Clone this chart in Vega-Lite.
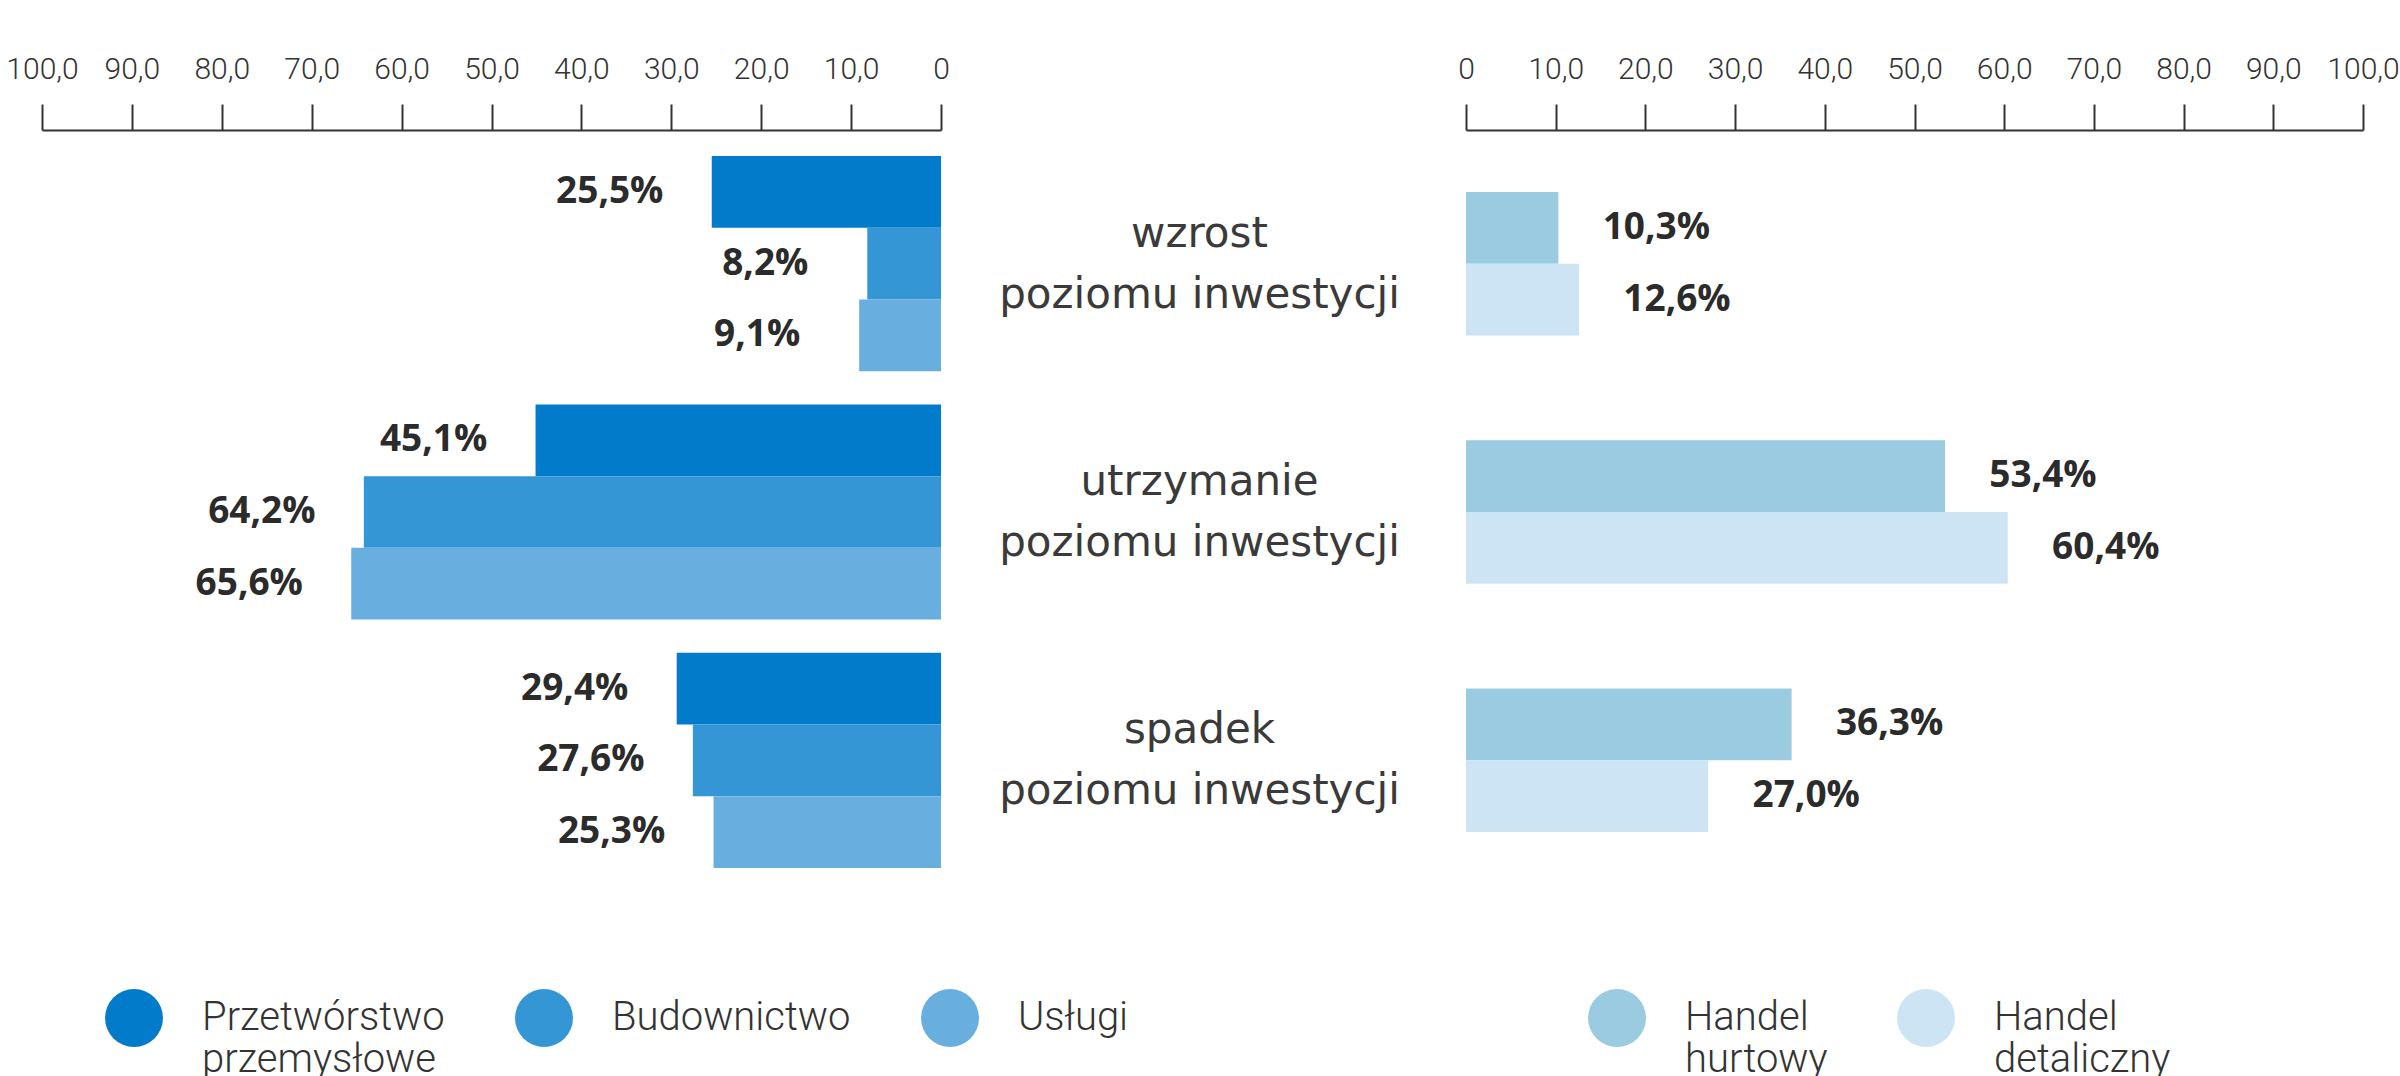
{
  "$schema": "https://vega.github.io/schema/vega-lite/v6.json",
  "background": "white",
  "padding": {"left": 5, "top": 54, "right": 0, "bottom": 0},
  "bounds": "flush",
  "spacing": 525,
  "datasets": {
    "lewy": [
      {"kategoria": "wzrost poziomu inwestycji", "sektor": "Przetwórstwo przemysłowe", "wartosc": 25.5},
      {"kategoria": "wzrost poziomu inwestycji", "sektor": "Budownictwo", "wartosc": 8.2},
      {"kategoria": "wzrost poziomu inwestycji", "sektor": "Usługi", "wartosc": 9.1},
      {"kategoria": "utrzymanie poziomu inwestycji", "sektor": "Przetwórstwo przemysłowe", "wartosc": 45.1},
      {"kategoria": "utrzymanie poziomu inwestycji", "sektor": "Budownictwo", "wartosc": 64.2},
      {"kategoria": "utrzymanie poziomu inwestycji", "sektor": "Usługi", "wartosc": 65.6},
      {"kategoria": "spadek poziomu inwestycji", "sektor": "Przetwórstwo przemysłowe", "wartosc": 29.4},
      {"kategoria": "spadek poziomu inwestycji", "sektor": "Budownictwo", "wartosc": 27.6},
      {"kategoria": "spadek poziomu inwestycji", "sektor": "Usługi", "wartosc": 25.3}
    ],
    "prawy": [
      {"kategoria": "wzrost poziomu inwestycji", "sektor": "Handel hurtowy", "wartosc": 10.3},
      {"kategoria": "wzrost poziomu inwestycji", "sektor": "Handel detaliczny", "wartosc": 12.6},
      {"kategoria": "utrzymanie poziomu inwestycji", "sektor": "Handel hurtowy", "wartosc": 53.4},
      {"kategoria": "utrzymanie poziomu inwestycji", "sektor": "Handel detaliczny", "wartosc": 60.4},
      {"kategoria": "spadek poziomu inwestycji", "sektor": "Handel hurtowy", "wartosc": 36.3},
      {"kategoria": "spadek poziomu inwestycji", "sektor": "Handel detaliczny", "wartosc": 27.0}
    ]
  },
  "hconcat": [
    {
      "width": 899,
      "height": 764,
      "data": {"name": "lewy"},
      "transform": [
        {"calculate": "replace(format(datum.wartosc, '.1f'), '.', ',') + '%'", "as": "etykieta"}
      ],
      "encoding": {
        "y": {
          "field": "kategoria", "type": "nominal",
          "sort": ["wzrost poziomu inwestycji", "utrzymanie poziomu inwestycji", "spadek poziomu inwestycji"],
          "scale": {"paddingInner": 0.1336, "paddingOuter": 0.105},
          "axis": null
        },
        "yOffset": {
          "field": "sektor", "type": "nominal",
          "sort": ["Przetwórstwo przemysłowe", "Budownictwo", "Usługi"],
          "scale": {"paddingInner": 0, "paddingOuter": 0}
        }
      },
      "layer": [
        {
          "mark": {"type": "bar", "strokeWidth": 0},
          "encoding": {
            "x": {
              "field": "wartosc", "type": "quantitative",
              "scale": {"domain": [0, 100], "reverse": true, "nice": false},
              "axis": {
                "orient": "top", "title": null, "values": [0, 10, 20, 30, 40, 50, 60, 70, 80, 90, 100],
                "labelExpr": "datum.value == 0 ? '0' : replace(format(datum.value, '.1f'), '.', ',')",
                "grid": false
              }
            },
            "color": {
              "field": "sektor", "type": "nominal",
              "sort": ["Przetwórstwo przemysłowe", "Budownictwo", "Usługi"],
              "scale": {"domain": ["Przetwórstwo przemysłowe", "Budownictwo", "Usługi"], "range": ["#027BCA", "#3596D5", "#68AFDF"]},
              "legend": {
                "orient": "none", "legendX": 63, "legendY": 859, "direction": "horizontal",
                "title": null, "symbolType": "circle", "symbolSize": 3364, "symbolStrokeWidth": 0,
                "labelFont": "Roboto", "labelFontWeight": 300, "labelFontSize": 40, "labelColor": "#333333",
                "labelOffset": 39, "columnPadding": 70, "labelLimit": 500, "labelLineHeight": 50,
                "labelExpr": "indexof(datum.label, ' ') > 0 ? split(datum.label, ' ') : [datum.label, '']", "padding": 0
              }
            }
          }
        },
        {
          "mark": {"type": "text", "align": "center", "baseline": "middle", "dx": -102, "font": "Open Sans", "fontWeight": 700, "fontSize": 37, "color": "#2b2b2b"},
          "encoding": {
            "x": {"field": "wartosc", "type": "quantitative"},
            "text": {"field": "etykieta"}
          }
        },
        {
          "mark": {"type": "rule", "color": "#bdbdbd", "strokeWidth": 2, "strokeDash": [3, 8]},
          "encoding": {"x": {"datum": 0}}
        }
      ]
    },
    {
      "width": 897,
      "height": 764,
      "data": {"name": "prawy"},
      "transform": [
        {"calculate": "replace(format(datum.wartosc, '.1f'), '.', ',') + '%'", "as": "etykieta"}
      ],
      "encoding": {
        "y": {
          "field": "kategoria", "type": "nominal",
          "sort": ["wzrost poziomu inwestycji", "utrzymanie poziomu inwestycji", "spadek poziomu inwestycji"],
          "scale": {"paddingInner": 0.1336, "paddingOuter": 0.105},
          "axis": {
            "orient": "left", "title": null, "domain": false, "ticks": false, "tickSize": 0,
            "labelPadding": 267, "labelAlign": "center", "labelBaseline": "middle", "labelOffset": -30,
            "labelFont": "DejaVu Sans", "labelFontWeight": "normal", "labelFontSize": 42, "labelColor": "#3a3a3a",
            "labelLineHeight": 61, "labelLimit": 800,
            "labelExpr": "[substring(datum.label, 0, indexof(datum.label, ' ')), substring(datum.label, indexof(datum.label, ' ') + 1)]"
          }
        },
        "yOffset": {
          "field": "sektor", "type": "nominal",
          "sort": ["Handel hurtowy", "Handel detaliczny"],
          "scale": {"paddingInner": 0, "paddingOuter": 0.5}
        }
      },
      "layer": [
        {
          "mark": {"type": "bar", "strokeWidth": 0},
          "encoding": {
            "x": {
              "field": "wartosc", "type": "quantitative",
              "scale": {"domain": [0, 100], "nice": false},
              "axis": {
                "orient": "top", "title": null, "values": [0, 10, 20, 30, 40, 50, 60, 70, 80, 90, 100],
                "labelExpr": "datum.value == 0 ? '0' : replace(format(datum.value, '.1f'), '.', ',')",
                "grid": false
              }
            },
            "color": {
              "field": "sektor", "type": "nominal",
              "sort": ["Handel hurtowy", "Handel detaliczny"],
              "scale": {"domain": ["Handel hurtowy", "Handel detaliczny"], "range": ["#9ACBE1", "#CDE4F4"]},
              "legend": {
                "orient": "none", "legendX": 122, "legendY": 859, "direction": "horizontal",
                "title": null, "symbolType": "circle", "symbolSize": 3364, "symbolStrokeWidth": 0,
                "labelFont": "Roboto", "labelFontWeight": 300, "labelFontSize": 40, "labelColor": "#333333",
                "labelOffset": 39, "columnPadding": 69, "labelLimit": 500, "labelLineHeight": 50,
                "labelExpr": "split(datum.label, ' ')", "padding": 0
              }
            }
          }
        },
        {
          "mark": {"type": "text", "align": "center", "baseline": "middle", "dx": 98, "font": "Open Sans", "fontWeight": 700, "fontSize": 37, "color": "#2b2b2b"},
          "encoding": {
            "x": {"field": "wartosc", "type": "quantitative"},
            "text": {"field": "etykieta"}
          }
        },
        {
          "mark": {"type": "rule", "color": "#222222", "strokeWidth": 2, "strokeDash": [3, 8]},
          "encoding": {"x": {"datum": 0}}
        }
      ]
    }
  ],
  "resolve": {"scale": {"color": "independent", "y": "independent", "yOffset": "independent", "x": "independent"}},
  "config": {
    "view": {"stroke": null},
    "axis": {
      "domainColor": "#333333", "domainWidth": 2,
      "tickColor": "#333333", "tickWidth": 2, "tickSize": 26,
      "labelFont": "Roboto", "labelFontWeight": 300, "labelFontSize": 30, "labelColor": "#333333",
      "labelPadding": 20, "labelFlush": false, "labelOverlap": false
    }
  }
}
